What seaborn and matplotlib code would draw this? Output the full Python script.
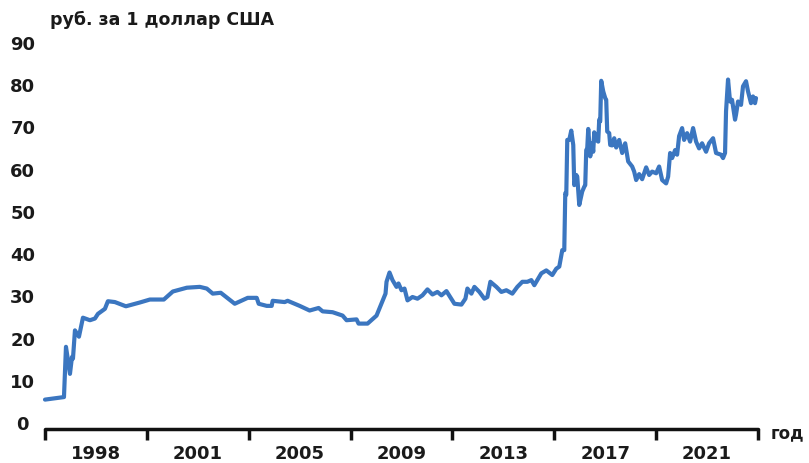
import matplotlib
matplotlib.use("Agg")
import matplotlib.pyplot as plt
import seaborn as sns
import pandas as pd

# Курс рубля к доллару США
# step - условная позиция по оси X (8 делений через каждые 102 шага)
step = [0, 19, 21, 25, 27, 28, 30, 34, 38, 45, 50, 53, 60, 63, 70, 81, 95, 105,
        119, 128, 142, 155, 162, 168, 176, 190, 203, 212, 214, 222, 227, 228,
        240, 243, 255, 265, 274, 278, 288, 298, 302, 312, 314, 323, 332, 341,
        342, 345, 348, 352, 354, 357, 360, 363, 368, 373, 378, 383, 388, 393,
        397, 402, 410, 417, 421, 423, 427, 430, 435, 440, 443, 446, 452, 457,
        462, 468, 473, 478, 483, 487, 490, 497, 502, 508, 512, 515, 518, 520,
        521, 522, 523, 525, 527, 529, 530, 532, 533, 535, 538, 540, 541, 542,
        543, 544, 546, 548, 549, 550, 552, 554, 555, 556, 557, 559, 561, 562,
        563, 565, 566, 568, 570, 572, 575, 578, 581, 584, 588, 590, 592, 595,
        598, 602, 605, 608, 612, 615, 618, 622, 624, 626, 628, 631, 633, 635,
        638, 640, 643, 646, 649, 652, 655, 658, 662, 665, 669, 672, 677, 679,
        681, 682, 684, 686, 688, 691, 692, 694, 697, 699, 702, 704, 707, 709,
        711, 712]
rate = [5.3, 5.9, 17.8, 11.4, 15.4, 15.0, 21.7, 20.2, 24.7, 24.1, 24.5, 25.6,
        26.8, 28.6, 28.4, 27.4, 28.3, 29.0, 29.0, 30.9, 31.8, 32.0, 31.6, 30.4,
        30.6, 28.0, 29.4, 29.4, 28.0, 27.5, 27.5, 28.7, 28.4, 28.7, 27.5, 26.4,
        27.0, 26.2, 26.0, 25.2, 24.1, 24.3, 23.3, 23.3, 25.2, 30.4, 33.2, 35.4,
        33.6, 32.0, 32.8, 31.2, 31.6, 28.8, 29.6, 29.2, 30.0, 31.4, 30.2, 30.8,
        30.0, 31.0, 28.0, 27.8, 29.2, 31.6, 30.4, 32.0, 30.8, 29.2, 29.6, 33.2,
        32.0, 30.8, 31.2, 30.4, 32.0, 33.2, 33.2, 33.6, 32.4, 35.2, 35.9, 34.8,
        36.3, 36.8, 40.7, 40.7, 54.2, 53.8, 66.8, 66.8, 69.0, 65.6, 56.1, 58.5,
        58.1, 51.4, 54.6, 55.7, 56.1, 64.4, 64.8, 69.4, 62.9, 66.0, 64.0, 68.6,
        66.8, 66.4, 71.6, 71.2, 80.8, 78.3, 76.7, 76.3, 68.8, 68.4, 65.6, 65.5,
        67.2, 65.0, 66.8, 63.7, 66.0, 61.7, 60.5, 59.3, 57.3, 58.7, 57.5, 60.3,
        58.5, 59.3, 58.9, 60.5, 57.3, 56.5, 58.1, 63.7, 62.5, 64.4, 63.3, 67.7,
        69.6, 66.8, 68.4, 66.4, 69.6, 66.4, 64.8, 66.0, 64.0, 66.0, 67.2, 63.7,
        63.3, 62.5, 63.7, 73.6, 81.1, 75.9, 76.3, 71.6, 72.8, 75.9, 75.1, 79.5,
        80.7, 78.3, 75.5, 77.1, 75.5, 76.7]

tick_steps = [0, 102, 204, 306, 408, 510, 612, 714]
label_steps = [51, 153, 255, 357, 459, 561, 663]
year_labels = ["1998", "2001", "2005", "2009", "2013", "2017", "2021"]
y_ticks = [0, 10, 20, 30, 40, 50, 60, 70, 80, 90]

df = pd.DataFrame({"step": step, "rate": rate})

sns.set_theme(style="white")
plt.rcParams["font.family"] = ["DejaVu Sans"]
plt.rcParams["font.weight"] = "bold"

fig = plt.figure(figsize=(8.09, 4.64), dpi=100)
ax = fig.add_axes([45 / 809, 34 / 464, 713 / 809, 390 / 464])

sns.lineplot(data=df, x="step", y="rate", estimator=None, sort=False,
             color="#3b76c0", linewidth=3.0, ax=ax)
for l in ax.lines:
    l.set_clip_on(False)
    l.set_solid_joinstyle("round")
    l.set_solid_capstyle("round")

ax.set_xlim(0, 714)
ax.set_ylim(-1.66, 90.7)
ax.set_xlabel("")
ax.set_ylabel("")

for side in ["top", "right", "left"]:
    ax.spines[side].set_visible(False)
ax.spines["bottom"].set_linewidth(2.5)
ax.spines["bottom"].set_color("#111111")
ax.spines["bottom"].set_capstyle("round")

# основные деления без подписей, подписи лет - между делениями
ax.set_xticks(tick_steps)
ax.set_xticklabels([])
ax.set_xticks(label_steps, minor=True)
ax.set_xticklabels(year_labels, minor=True)
ax.tick_params(axis="x", which="major", bottom=True, length=8, width=2.5,
               color="#111111", direction="out")
ax.tick_params(axis="x", which="minor", bottom=True, length=0, pad=11,
               labelsize=13, labelcolor="#1a1a1a")

ax.set_yticks(y_ticks)
ax.tick_params(axis="y", left=False, length=0, pad=16, labelsize=13,
               labelcolor="#1a1a1a")
for t in ax.get_yticklabels():
    t.set_horizontalalignment("center")
    t.set_fontweight("bold")
for t in ax.get_xticklabels(minor=True):
    t.set_fontweight("bold")

fig.text(50 / 809, 1 - 20 / 464, "руб. за 1 доллар США", fontsize=12.5,
         fontweight="bold", color="#1a1a1a", va="center", ha="left")
fig.text(771 / 809, 1 - 433 / 464, "год", fontsize=12, fontweight="bold",
         color="#1a1a1a", va="center", ha="left")

fig.savefig("out.png", dpi=100)
